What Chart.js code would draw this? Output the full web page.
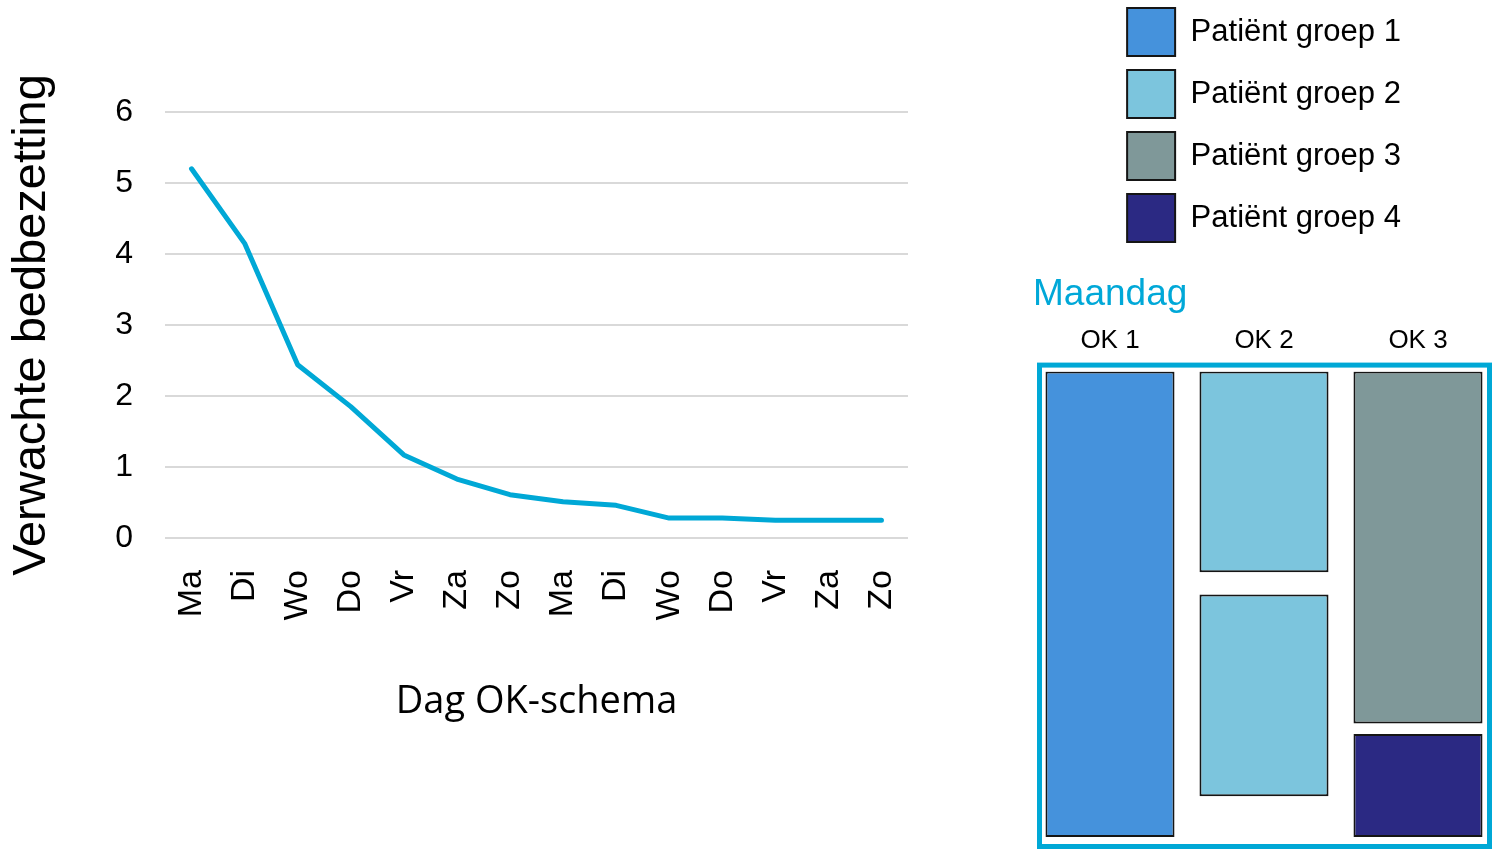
<!DOCTYPE html>
<html><head><meta charset="utf-8">
<script src="https://cdn.jsdelivr.net/npm/chart.js@4.4.1/dist/chart.umd.min.js"></script>
<style>
html,body{margin:0;padding:0;background:#fff;overflow:hidden;width:1495px;height:850px;}
#c1{position:absolute;left:0;top:0;}
#c2{position:absolute;left:1030px;top:-6px;}
</style></head><body>
<canvas id="c1" width="1000" height="850"></canvas>
<canvas id="c2" width="465" height="856"></canvas>
<script>
// ---- data ----
const days = ['Ma','Di','Wo','Do','Vr','Za','Zo','Ma','Di','Wo','Do','Vr','Za','Zo'];
const bedOccupancy = [5.2, 4.15, 2.44, 1.85, 1.17, 0.83, 0.61, 0.51, 0.46, 0.28, 0.28, 0.25, 0.25, 0.25];
const yTicks = [0, 1, 2, 3, 4, 5, 6];
const rooms = ['OK 1', 'OK 2', 'OK 3'];
const groupNames = ['Patiënt groep 1', 'Patiënt groep 2', 'Patiënt groep 3', 'Patiënt groep 4'];
const group1Blocks = [[0, 8], null, null];
const group2BlocksA = [null, [0, 3.45], null];
const group2BlocksB = [null, [3.83, 7.3], null];
const group3Blocks = [null, null, [0, 6.05]];
const group4Blocks = [null, null, [6.23, 8]];
const dayTitle = 'Maandag';

// ---- styles ----
const F = "'Liberation Sans', Arial, sans-serif";
const lineColor = '#00a8d6';
const groupColors = ['#4592dc', '#7cc5dd', '#7f9899', '#2b2983'];

new Chart(document.getElementById('c1'), {
  type: 'line',
  data: {
    labels: days,
    datasets: [{
      data: bedOccupancy,
      borderColor: lineColor,
      borderWidth: 5,
      pointRadius: 0,
      tension: 0,
      fill: false,
      borderCapStyle: 'round',
      borderJoinStyle: 'round'
    }]
  },
  options: {
    responsive: false,
    animation: false,
    layout: { padding: { top: 112, right: 92, bottom: 0, left: 0 } },
    plugins: { legend: { display: false }, tooltip: { enabled: false } },
    scales: {
      x: {
        offset: true,
        grid: { display: false, drawTicks: false },
        border: { display: false },
        ticks: { minRotation: 90, maxRotation: 90, autoSkip: false, padding: 32, color: '#000', font: { family: F, size: 34 } },
        title: { display: true, text: 'Dag OK-schema', color: '#000', font: { family: "'Open Sans', sans-serif", size: 38 }, padding: { top: 0, bottom: 125 } },
        afterFit(s) { s.height = 312; }
      },
      y: {
        min: yTicks[0],
        max: yTicks[yTicks.length - 1],
        grid: { color: '#d9d9d9', lineWidth: 2, drawTicks: false },
        border: { display: false },
        ticks: { stepSize: 1, padding: 32, color: '#000', font: { family: F, size: 32 } },
        title: { display: true, text: 'Verwachte bedbezetting', color: '#000', font: { family: F, size: 47 }, padding: { top: 4, bottom: 0 } },
        afterFit(s) { s.width = 165; }
      }
    }
  }
});

const framePlugin = {
  id: 'frame',
  afterDatasetsDraw(chart) {
    const { ctx, chartArea: a } = chart;
    ctx.save();
    ctx.strokeStyle = lineColor;
    ctx.lineWidth = 5;
    const l = a.left + 6.5, r = a.right - 5.5, t = a.top - 6.5, b = a.bottom + 9.5;
    ctx.strokeRect(l, t, r - l, b - t);
    ctx.restore();
  }
};

const barCommon = { grouped: false, barPercentage: 0.838, categoryPercentage: 1, borderWidth: 2, borderColor: '#151515', borderSkipped: false };

new Chart(document.getElementById('c2'), {
  type: 'bar',
  data: {
    labels: rooms,
    datasets: [
      Object.assign({ label: groupNames[0], data: group1Blocks, backgroundColor: groupColors[0] }, barCommon),
      Object.assign({ label: groupNames[1], data: group2BlocksA, backgroundColor: groupColors[1] }, barCommon),
      Object.assign({ label: groupNames[2], data: group3Blocks, backgroundColor: groupColors[2] }, barCommon),
      Object.assign({ label: groupNames[3], data: group4Blocks, backgroundColor: groupColors[3] }, barCommon),
      Object.assign({ label: groupNames[1] + ' ', data: group2BlocksB, backgroundColor: groupColors[1] }, barCommon)
    ]
  },
  options: {
    responsive: false,
    animation: false,
    layout: { padding: { left: 3, right: 0, top: 0, bottom: 13 } },
    plugins: {
      tooltip: { enabled: false },
      legend: {
        position: 'top', align: 'center',
        labels: {
          boxWidth: 48, boxHeight: 48, padding: 14, color: '#000',
          font: { family: F, size: 31 },
          filter: (item) => item.datasetIndex < 4
        }
      },
      title: {
        display: true, text: dayTitle, align: 'start', color: '#00a8d8',
        font: { family: F, size: 37, weight: 'normal' },
        padding: { top: 21, bottom: -7 }, weight: 500
      }
    },
    scales: {
      x: {
        position: 'top',
        grid: { display: false, drawTicks: false },
        border: { display: false },
        ticks: { padding: 15, color: '#000', font: { family: F, size: 26 } }
      },
      y: { display: false, reverse: true, min: 0, max: 8 }
    }
  },
  plugins: [framePlugin]
});
</script>
</body></html>
